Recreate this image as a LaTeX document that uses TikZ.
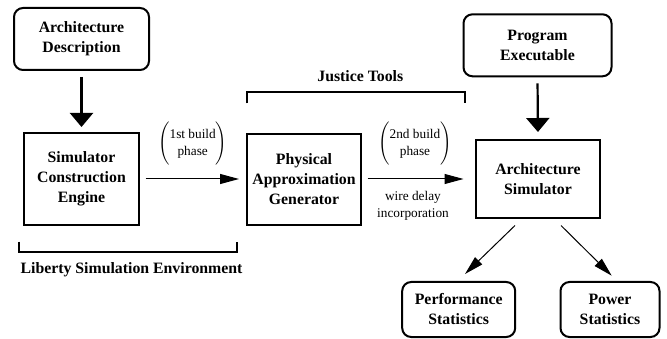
\documentclass[tikz,border=0pt]{standalone}
\usepackage{amsmath}
\usepackage{fontspec}
\setmainfont{Liberation Serif}
\usetikzlibrary{arrows.meta,calc}
\newcommand{\parlabel}[2]{\hbox{\fontsize{13.3}{17}\selectfont$\Biggl(\vcenter{\hbox{\begin{tabular}{@{}c@{}}#1\\#2\end{tabular}}}\Biggr)$}}
\begin{document}
\begin{tikzpicture}[x=1pt,y=-1pt,
 boxtxt/.style={font=\fontsize{15.8}{20}\selectfont\bfseries, align=center},
 rbox/.style={boxtxt, draw, line width=2pt, rounded corners=9pt, inner sep=0pt},
 sbox/.style={boxtxt, draw, line width=2pt, inner sep=0pt},
 bigarrow/.style={line width=2.2pt, -{Triangle[length=14pt,width=23pt]}},
 thinarrow/.style={line width=1pt, -{Triangle[length=19pt,width=10pt]}},
 smalltxt/.style={font=\fontsize{13.3}{17}\selectfont, align=center, inner sep=0pt},
 bracketline/.style={line width=2pt},
 brlabel/.style={font=\fontsize{15.8}{20}\selectfont\bfseries, inner sep=0pt}
]
\useasboundingbox (0,0) rectangle (667,339);

\node[rbox, minimum width=135pt, minimum height=62pt] (AD) at (81.5,39) {Architecture\\Description};
\node[sbox, minimum width=115pt, minimum height=92pt] (SCE) at (81.5,179) {Simulator\\Construction\\Engine};
\node[sbox, minimum width=114pt, minimum height=91pt] (PAG) at (304,179.5) {Physical\\Approximation\\Generator};
\node[sbox, minimum width=124pt, minimum height=78pt] (AS) at (538,179) {Architecture\\Simulator};
\node[rbox, minimum width=148pt, minimum height=62pt] (PE) at (537.5,45.3) {Program\\Executable};
\node[rbox, minimum width=113pt, minimum height=55pt] (Perf) at (458.7,309.5) {Performance\\Statistics};
\node[rbox, minimum width=99pt, minimum height=55pt] (Pow) at (610,309.5) {Power\\Statistics};

\draw[bigarrow, shorten <=6pt, shorten >=5pt] (AD.south) -- (SCE.north);
\draw[bigarrow, shorten <=6pt, shorten >=7pt] (PE.south) -- (AS.north);

\draw[thinarrow, shorten <=5.5pt, shorten >=7pt] (SCE.east) -- (SCE.east -| PAG.west);
\draw[thinarrow, shorten <=5.5pt, shorten >=11.5pt] (PAG.east |- SCE.east) -- (SCE.east -| AS.west);
\draw[thinarrow] ($(AS.south)+(-23,6.5)$) -- ($(Perf.north)+(6.3,-7)$);
\draw[thinarrow] ($(AS.south)+(23,6.5)$) -- ($(Pow.north)+(1.7,-5.3)$);

\node[smalltxt] (L1) at (192.7,144) {\parlabel{1st build}{phase}};
\node[smalltxt] (L2) at (415,144) {\parlabel{2nd build}{phase}};
\node[smalltxt] (W) at (413,206) {wire delay\\incorporation};

\draw[bracketline] (19.3,241.7) -- (19.3,252.5) -- (237.3,252.5) -- (237.3,241.7);
\node[brlabel] (LSE) at (131.5,270) {Liberty Simulation Environment};
\draw[bracketline] (247.3,103.3) -- (247.3,92.3) -- (465.3,92.3) -- (465.3,103.3);
\node[brlabel] (JT) at (360.3,76) {Justice Tools};
\end{tikzpicture}
\end{document}
